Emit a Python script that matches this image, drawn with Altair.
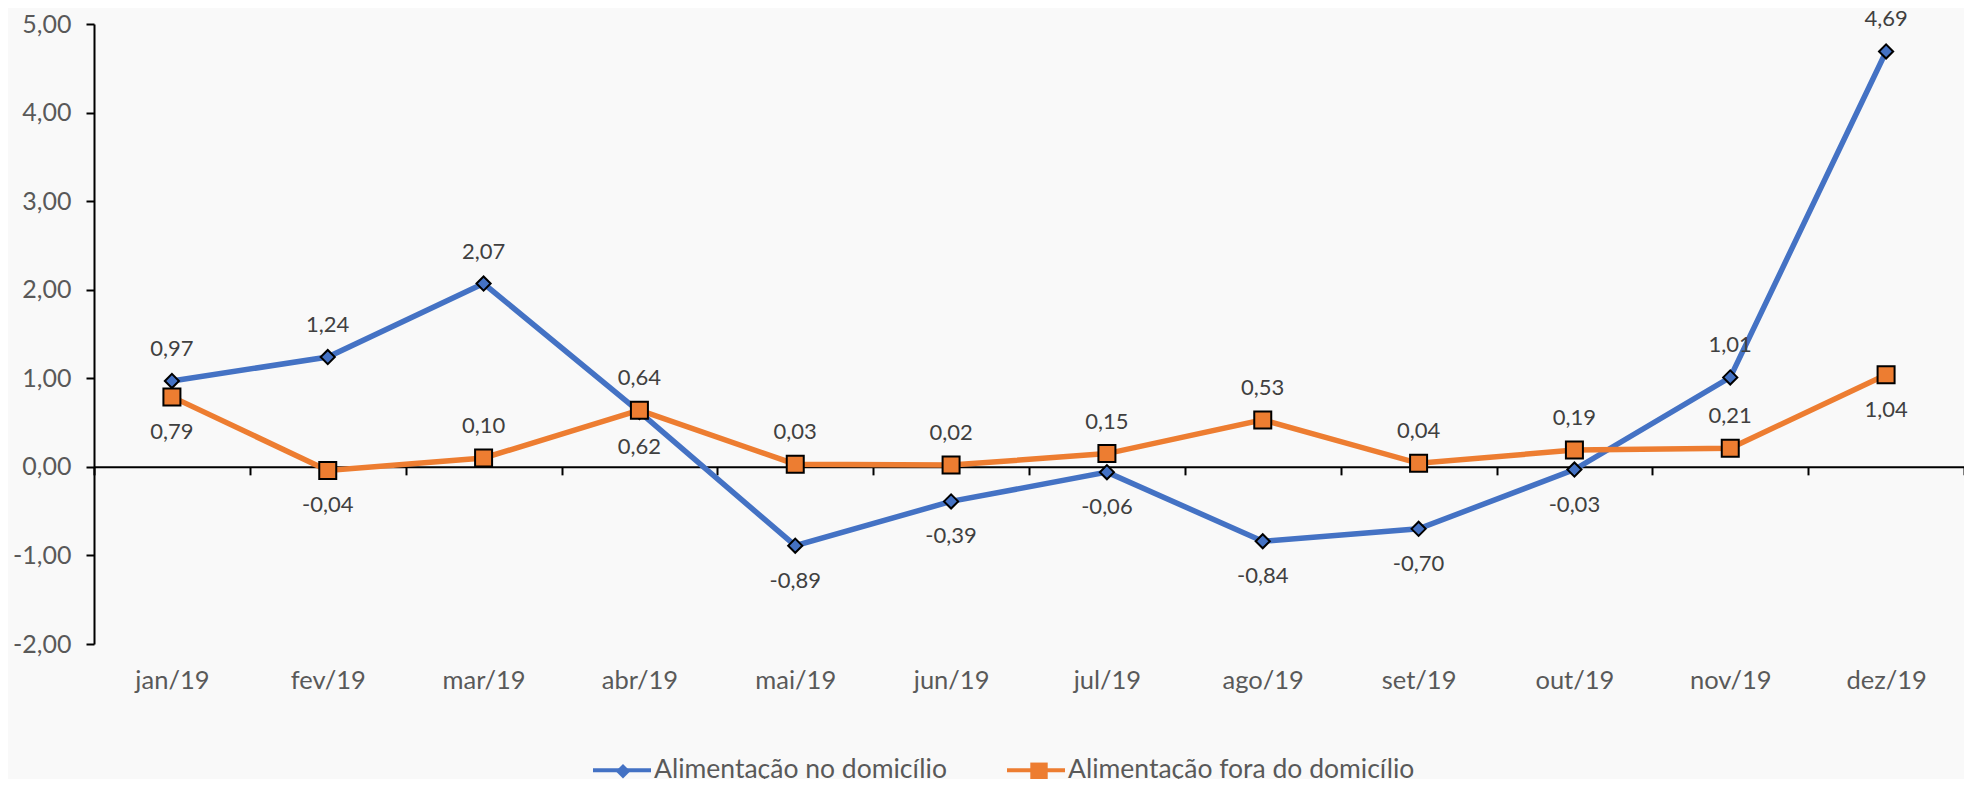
import altair as alt
import pandas as pd

# ---------------- data ----------------
meses = ["jan/19", "fev/19", "mar/19", "abr/19", "mai/19", "jun/19",
         "jul/19", "ago/19", "set/19", "out/19", "nov/19", "dez/19"]
serie_dom = "Alimentação no domicílio"
serie_fora = "Alimentação fora do domicílio"
valores_dom = [0.97, 1.24, 2.07, 0.62, -0.89, -0.39, -0.06, -0.84, -0.70, -0.03, 1.01, 4.69]
valores_fora = [0.79, -0.04, 0.10, 0.64, 0.03, 0.02, 0.15, 0.53, 0.04, 0.19, 0.21, 1.04]
# where each data label sits relative to its point
rotulo_dom = ["acima", "acima", "acima", "abaixo", "abaixo", "abaixo",
              "abaixo", "abaixo", "abaixo", "abaixo", "acima", "acima"]
rotulo_fora = ["abaixo", "abaixo", "acima", "acima", "acima", "acima",
               "acima", "acima", "acima", "acima", "acima", "abaixo"]
y_ticks = [-2, -1, 0, 1, 2, 3, 4, 5]

# ---------------- style ----------------
series = [serie_dom, serie_fora]
cores = ["#4472c4", "#ed7d31"]
FONT = "Lato"
W, H = 1870, 620
YMIN, YMAX = -2, 5

rows = []
for m, v, p in zip(meses, valores_dom, rotulo_dom):
    rows.append({"mes": m, "valor": v, "serie": serie_dom, "pos": p})
for m, v, p in zip(meses, valores_fora, rotulo_fora):
    rows.append({"mes": m, "valor": v, "serie": serie_fora, "pos": p})
df = pd.DataFrame(rows)

fmt_expr = "(datum.valor < 0 ? '-' : '') + replace(format(abs(datum.valor), '.2f'), '.', ',')"
axis_fmt = "(datum.value < 0 ? '-' : '') + replace(format(abs(datum.value), '.2f'), '.', ',')"

# the category axis crosses the value axis at zero
zero_offset = -H * (0 - YMIN) / (YMAX - YMIN)

x_enc = alt.X(
    "mes:N", sort=meses, bandPosition=0.5,
    scale=alt.Scale(type="band", paddingInner=0, paddingOuter=0),
    axis=alt.Axis(
        title=None, labelAngle=0, offset=zero_offset, grid=False,
        domainColor="black", domainWidth=2,
        tickColor="black", tickWidth=2, tickSize=8, tickBand="extent",
        labelPadding=194, labelFontSize=25.5, labelColor="#595959", labelFont=FONT,
    ),
)
y_enc = alt.Y(
    "valor:Q",
    scale=alt.Scale(domain=[YMIN, YMAX], nice=False, zero=False),
    axis=alt.Axis(
        title=None, values=y_ticks, labelExpr=axis_fmt, grid=False,
        domainColor="black", domainWidth=2,
        tickColor="black", tickWidth=2, tickSize=8,
        labelPadding=15, labelFontSize=25, labelColor="#595959", labelFont=FONT,
    ),
)

base = alt.Chart(df)

lines = base.mark_line(strokeWidth=5.5).encode(
    x=x_enc, y=y_enc,
    stroke=alt.Stroke("serie:N", scale=alt.Scale(domain=series, range=cores), legend=None),
    detail="serie:N",
)

points = base.mark_point(filled=True, opacity=1, stroke="black", strokeWidth=2).encode(
    x=x_enc, y=y_enc,
    fill=alt.Fill("serie:N", scale=alt.Scale(domain=series, range=cores), legend=None),
    shape=alt.Shape("serie:N", scale=alt.Scale(domain=series, range=["diamond", "square"]), legend=None),
    size=alt.Size("serie:N", scale=alt.Scale(domain=series, range=[200, 289]), legend=None),
)

lab_common = dict(fontSize=22, color="#404040", font=FONT, baseline="middle", align="center")
lab_above = base.transform_filter("datum.pos == 'acima'").transform_calculate(
    rot=fmt_expr).mark_text(dy=-32, **lab_common).encode(x=x_enc, y=y_enc, text="rot:N")
lab_below = base.transform_filter("datum.pos == 'abaixo'").transform_calculate(
    rot=fmt_expr).mark_text(dy=35, **lab_common).encode(x=x_enc, y=y_enc, text="rot:N")

LEG_X, LEG_Y = 499, 717
leg_common = dict(
    orient="none", legendX=LEG_X, legendY=LEG_Y, direction="horizontal", title=None,
    symbolSize=3364, labelFontSize=26.5, labelColor="#595959", labelFont=FONT,
    labelOffset=3, labelLimit=0, columnPadding=60, padding=0, symbolOpacity=1,
)
# legend layer A: the coloured line of each legend entry
leg_a = base.transform_filter("false").transform_calculate(legA="datum.serie").mark_point(
    filled=True, opacity=1, strokeWidth=0).encode(
    fill=alt.Fill("legA:N", scale=alt.Scale(domain=series, range=cores),
                  legend=alt.Legend(symbolType="M-1,-0.07H1V0.07H-1Z", symbolStrokeWidth=0,
                                    **leg_common)),
)
# legend layer B: the marker of each legend entry
marker_paths = ["M-0.25,0L0,-0.25L0.25,0L0,0.25Z", "M-0.3,-0.3H0.3V0.3H-0.3Z"]
leg_b_legend = alt.Legend(symbolStrokeColor="black", symbolStrokeWidth=2, labelOpacity=0, **leg_common)
leg_b = base.transform_filter("false").transform_calculate(legB="datum.serie").mark_point(
    filled=True, opacity=1, stroke="black", strokeWidth=2).encode(
    fill=alt.Fill("legB:N", scale=alt.Scale(domain=series, range=cores), legend=leg_b_legend),
    shape=alt.Shape("legB:N", scale=alt.Scale(domain=series, range=marker_paths), legend=leg_b_legend),
)

chart = alt.layer(lines, points, lab_above, lab_below, leg_a, leg_b).resolve_scale(
    fill="independent", shape="independent"
).properties(
    width=W, height=H,
    autosize=alt.AutoSizeParams(type="none"),
    padding={"left": 86, "top": 16, "right": 0, "bottom": 135},
    background="#f9f9f9",
).configure_view(stroke=None)

chart.save("out.html", embed_options={"renderer": "svg", "actions": False})
